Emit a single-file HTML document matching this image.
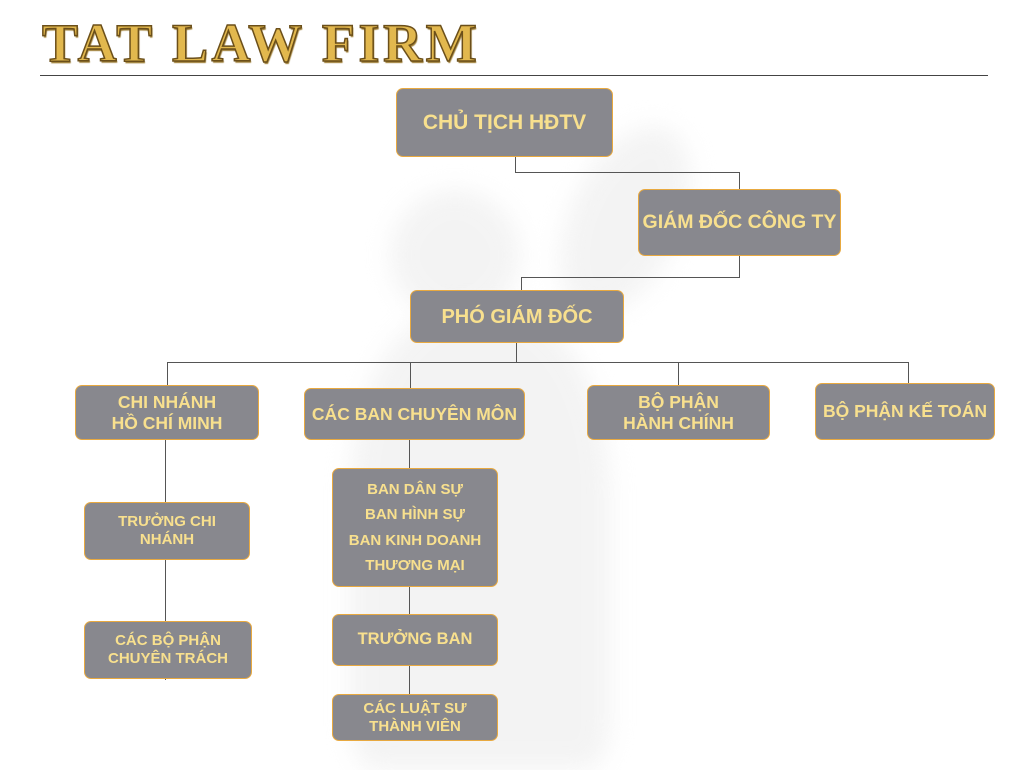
<!DOCTYPE html>
<html><head><meta charset="utf-8"><style>
body{margin:0;width:1024px;height:768px;background:#fff;position:relative;overflow:hidden;font-family:"Liberation Sans","DejaVu Sans",sans-serif}
.t{position:absolute;left:42px;top:12px;font-family:"Liberation Serif",serif;font-weight:bold;font-size:54px;color:#e2b84e;letter-spacing:3.6px;-webkit-text-stroke:1.5px #6b4f1a;text-shadow:1px 2px 1px #9a7a30}
.hr{position:absolute;left:40px;top:75px;width:948px;height:1px;background:#444}
.b{position:absolute;box-sizing:border-box;background:#88888e;border:1.5px solid #e8a940;border-radius:7px;color:#f8e08e;font-weight:bold;display:flex;align-items:center;justify-content:center;text-align:center;line-height:1.2}
.l{position:absolute;background:#555}
.bg{position:absolute;background:#efefef;filter:blur(12px);opacity:.7}
</style></head><body>
<div class="bg" style="left:390px;top:190px;width:130px;height:130px;border-radius:50%"></div>
<div class="bg" style="left:350px;top:310px;width:260px;height:460px;border-radius:40% 40% 10% 10%"></div>
<div class="bg" style="left:570px;top:120px;width:110px;height:200px;border-radius:50%;transform:rotate(25deg)"></div>
<div class="t">TAT LAW FIRM</div>
<div class="hr"></div>
<div class="l" style="left:515px;top:157px;width:1px;height:15px"></div>
<div class="l" style="left:515px;top:172px;width:225px;height:1px"></div>
<div class="l" style="left:739px;top:172px;width:1px;height:17px"></div>
<div class="l" style="left:739px;top:256px;width:1px;height:21px"></div>
<div class="l" style="left:521px;top:277px;width:219px;height:1px"></div>
<div class="l" style="left:521px;top:277px;width:1px;height:13px"></div>
<div class="l" style="left:516px;top:343px;width:1px;height:19px"></div>
<div class="l" style="left:167px;top:362px;width:742px;height:1px"></div>
<div class="l" style="left:167px;top:362px;width:1px;height:23px"></div>
<div class="l" style="left:410px;top:362px;width:1px;height:26px"></div>
<div class="l" style="left:678px;top:362px;width:1px;height:23px"></div>
<div class="l" style="left:908px;top:362px;width:1px;height:21px"></div>
<div class="l" style="left:165px;top:440px;width:1px;height:240px"></div>
<div class="l" style="left:409px;top:440px;width:1px;height:300px"></div>
<div class="b" style="left:396px;top:88px;width:217px;height:69px;font-size:21px">CHỦ TỊCH HĐTV</div>
<div class="b" style="left:638px;top:189px;width:203px;height:67px;font-size:19.5px">GIÁM ĐỐC CÔNG TY</div>
<div class="b" style="left:410px;top:290px;width:214px;height:53px;font-size:20px">PHÓ GIÁM ĐỐC</div>
<div class="b" style="left:75px;top:385px;width:184px;height:55px;font-size:17.5px">CHI NHÁNH<br>HỒ CHÍ MINH</div>
<div class="b" style="left:304px;top:388px;width:221px;height:52px;font-size:17.5px">CÁC BAN CHUYÊN MÔN</div>
<div class="b" style="left:587px;top:385px;width:183px;height:55px;font-size:17.5px">BỘ PHẬN<br>HÀNH CHÍNH</div>
<div class="b" style="left:815px;top:383px;width:180px;height:57px;font-size:17.5px">BỘ PHẬN KẾ TOÁN</div>
<div class="b" style="left:84px;top:502px;width:166px;height:58px;font-size:15px">TRƯỞNG CHI<br>NHÁNH</div>
<div class="b" style="left:84px;top:621px;width:168px;height:58px;font-size:15px">CÁC BỘ PHẬN<br>CHUYÊN TRÁCH</div>
<div class="b" style="left:332px;top:468px;width:166px;height:119px;font-size:15px;line-height:1.7">BAN DÂN SỰ<br>BAN HÌNH SỰ<br>BAN KINH DOANH<br>THƯƠNG MẠI</div>
<div class="b" style="left:332px;top:614px;width:166px;height:52px;font-size:16.5px">TRƯỞNG BAN</div>
<div class="b" style="left:332px;top:694px;width:166px;height:47px;font-size:15px">CÁC LUẬT SƯ<br>THÀNH VIÊN</div>
</body></html>
